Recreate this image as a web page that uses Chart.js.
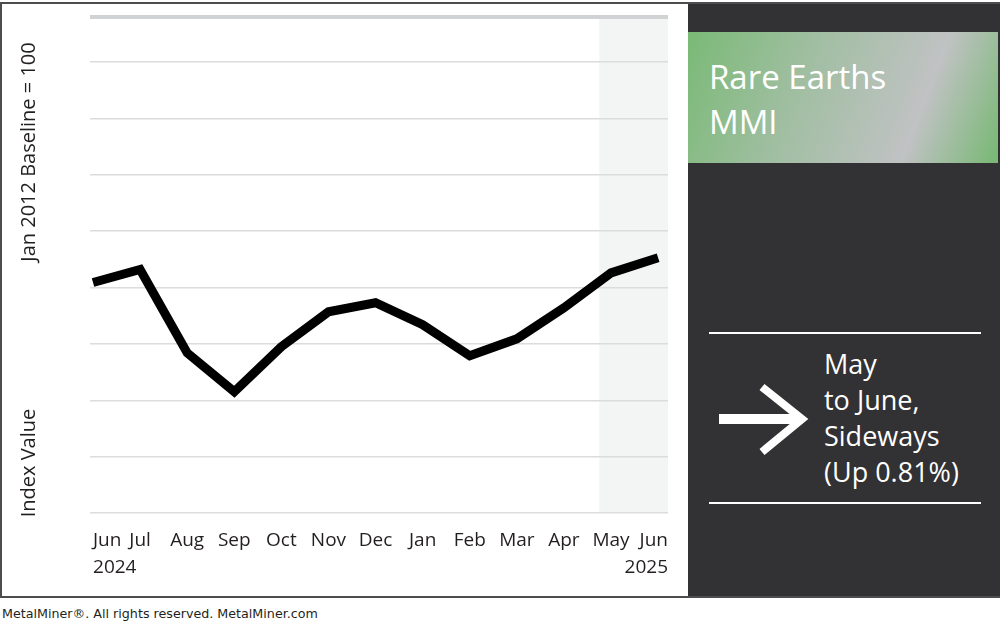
<!DOCTYPE html>
<html lang="en">
<head>
    <meta charset="UTF-8">
    <title>Rare Earths MMI</title>
    <script src="https://cdn.jsdelivr.net/npm/chart.js@4.4.1/dist/chart.umd.min.js"></script>
    <style>
        body { margin: 0; width: 1000px; height: 624px; background: #fff; position: relative; overflow: hidden; font-family: "Open Sans", sans-serif; }
        .frame {
            position: absolute; left: 0; top: 2px; width: 1000px; height: 596px;
            border: 2px solid #4d4d4f; border-right: none; box-sizing: border-box;
            pointer-events: none; z-index: 5;
        }
        #chartBox { position: absolute; left: 0; top: 0; width: 688px; height: 597px; }
        .ytitle {
            position: absolute; color: #231f20; font-size: 20px; white-space: nowrap;
            transform: translate(-50%, -50%) rotate(-90deg); left: 27px;
        }
        .panel { position: absolute; left: 688px; top: 2px; width: 312px; height: 595px; background: #323133; }
        .badge {
            position: absolute; left: 688px; top: 32px; width: 310px; height: 131px;
            background: linear-gradient(111deg, #7aba76 0%, #9fbea0 35%, #c0c2c3 73%, #77b873 100%);
        }
        .badge div { position: absolute; left: 21px; top: 22px; color: #fff; font-size: 33px; line-height: 45px; }
        .rule { position: absolute; left: 709px; width: 272px; height: 2px; background: #fff; }
        .trend { position: absolute; left: 824px; top: 346px; color: #fff; font-size: 27px; line-height: 36px; }
        .footer { position: absolute; left: 2px; top: 606px; font-family: "DejaVu Sans", Verdana, sans-serif; font-size: 12.7px; color: #231f20; }
    </style>
</head>
<body>
    <div id="chartBox"><canvas id="mmiChart"></canvas></div>
    <div class="ytitle" style="top:152px">Jan 2012 Baseline = 100</div>
    <div class="ytitle" style="top:463px">Index Value</div>

    <div class="panel"></div>
    <div class="badge"><div>Rare Earths<br>MMI</div></div>
    <div class="rule" style="top:332px"></div>
    <div class="rule" style="top:502px"></div>
    <svg style="position:absolute;left:700px;top:370px" width="120" height="100">
        <rect x="19" y="44" width="80" height="10" fill="#fff"/>
        <polyline points="62,17 102,49 62,82" fill="none" stroke="#fff" stroke-width="8" stroke-miterlimit="10"/>
    </svg>
    <div class="trend">May<br>to June,<br>Sideways<br>(Up 0.81%)</div>
    <div class="footer">MetalMiner&reg;. All rights reserved. MetalMiner.com</div>
    <div class="frame"></div>

    <script>
        // month labels, first and last carry the year underneath
        const months = ['Jun', 'Jul', 'Aug', 'Sep', 'Oct', 'Nov', 'Dec', 'Jan', 'Feb', 'Mar', 'Apr', 'May', 'Jun'];
        const yearLabels = { 0: '2024', 12: '2025' };
        // index values (relative scale, axis is unlabeled)
        const indexValues = [40.9, 43.2, 28.4, 21.5, 29.5, 35.7, 37.3, 33.4, 27.9, 30.9, 36.4, 42.6, 45.3];
        const yMin = 0;
        const yMax = 88;
        const yStep = 10;
        // shaded band for the latest month (in month-index units)
        const highlightFrom = 10.75;

        const shadePlugin = {
            id: 'shade',
            beforeDraw(chart) {
                const { ctx, chartArea, scales } = chart;
                const x1 = scales.x.getPixelForValue(highlightFrom);
                ctx.save();
                ctx.fillStyle = '#f3f5f4';
                ctx.fillRect(x1, chartArea.top + 2, chartArea.right - x1, chartArea.bottom - chartArea.top - 2);
                ctx.restore();
            }
        };

        // month labels: first one left aligned, last one right aligned to the plot edge
        const monthLabels = {
            id: 'monthLabels',
            afterDraw(chart) {
                const { ctx, chartArea, scales } = chart;
                const y1 = chartArea.bottom + 33;
                ctx.save();
                ctx.fillStyle = '#231f20';
                ctx.font = '19px "Open Sans"';
                months.forEach((m, i) => {
                    let x = scales.x.getPixelForValue(i);
                    ctx.textAlign = 'center';
                    if (i === 0) ctx.textAlign = 'left';
                    if (i === months.length - 1) { ctx.textAlign = 'right'; x = chartArea.right; }
                    ctx.fillText(m, x, y1);
                    if (yearLabels[i]) ctx.fillText(yearLabels[i], x, y1 + 27);
                });
                ctx.restore();
            }
        };

        new Chart(document.getElementById('mmiChart'), {
            type: 'line',
            data: {
                datasets: [{
                    data: indexValues.map((v, i) => ({ x: i, y: v })),
                    borderColor: '#000',
                    borderWidth: 9,
                    borderJoinStyle: 'miter',
                    pointRadius: 0,
                    tension: 0,
                    clip: 12
                }]
            },
            options: {
                responsive: true,
                maintainAspectRatio: false,
                animation: false,
                layout: { padding: { left: 90, top: 17, right: 20, bottom: 0 } },
                plugins: { legend: { display: false }, tooltip: { enabled: false } },
                scales: {
                    x: {
                        type: 'linear',
                        min: -0.064,
                        max: 12.21,
                        afterBuildTicks: s => { s.ticks = months.map((m, i) => ({ value: i })); },
                        afterFit: s => { s.height = 84; },
                        grid: { display: false },
                        border: { display: false },
                        ticks: { display: false }
                    },
                    y: {
                        min: yMin,
                        max: yMax,
                        afterFit: s => { s.width = 0; },
                        ticks: { display: false, stepSize: yStep },
                        border: { display: false },
                        grid: {
                            drawTicks: false,
                            color: c => c.tick.value === yMax ? '#d1d2d4' : '#dcdcdc',
                            lineWidth: c => c.tick.value === yMax ? 4 : 1.5
                        }
                    }
                }
            },
            plugins: [shadePlugin, monthLabels]
        });
    </script>
</body>
</html>
